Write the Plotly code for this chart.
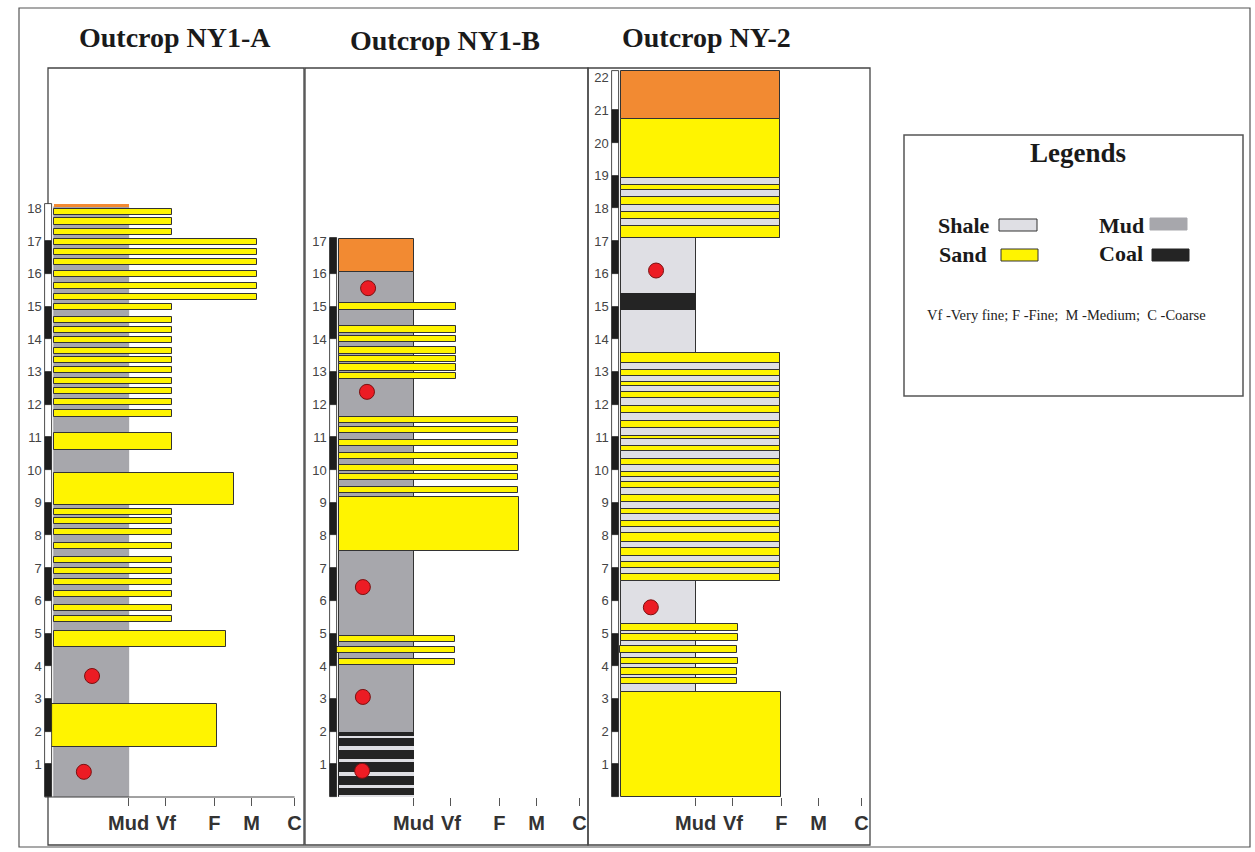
import plotly.graph_objects as go

# ---------------------------------------------------------------------------
# Data: lithological beds of three outcrop logs
# Each bed: (base_m, top_m, grain_size_position[, left_start])
# Grain-size scale positions used on the horizontal axis
# ---------------------------------------------------------------------------
GRAIN_LABELS = ["Mud", "Vf", "F", "M", "C"]
GRAIN_POS = [2.0, 3.0, 4.3, 5.3, 6.45]

# ---- Outcrop NY1-A ----
NY1A_MUD = [(0.0, 18.05, 2.0)]
NY1A_SOIL = [(18.05, 18.12, 2.0)]
NY1A_SAND = [
    (17.80, 17.98, 3.15), (17.50, 17.70, 3.15), (17.19, 17.37, 3.15),
    (16.88, 17.06, 5.45), (16.57, 16.76, 5.45), (16.27, 16.45, 5.45),
    (15.90, 16.08, 5.45), (15.53, 15.72, 5.45), (15.20, 15.38, 5.45),
    (14.89, 15.07, 3.15), (14.50, 14.68, 3.15), (14.19, 14.37, 3.15),
    (13.88, 14.07, 3.15), (13.55, 13.73, 3.15), (13.27, 13.46, 3.15),
    (12.97, 13.15, 3.15), (12.63, 12.81, 3.15), (12.32, 12.51, 3.15),
    (11.99, 12.17, 3.15), (11.62, 11.83, 3.15),
    (10.61, 11.13, 3.17),
    (8.93, 9.91, 4.83),
    (8.62, 8.81, 3.15), (8.35, 8.53, 3.15), (8.01, 8.20, 3.15),
    (7.58, 7.77, 3.15), (7.16, 7.34, 3.15), (6.82, 7.00, 3.15),
    (6.48, 6.67, 3.15), (6.12, 6.30, 3.15), (5.69, 5.87, 3.15),
    (5.35, 5.54, 3.15),
    (4.59, 5.08, 4.61),
    (1.53, 2.84, 4.37, -0.22),
]
NY1A_FOSSIL_X = [1.02, 0.80]
NY1A_FOSSIL_Y = [3.70, 0.77]

# ---- Outcrop NY1-B ----
NY1B_SOIL = [(16.06, 17.06, 2.0)]
NY1B_MUD = [(1.97, 16.06, 2.0)]
NY1B_COAL = [(0.0, 1.97, 2.0)]
NY1B_SHALE = [(1.81, 1.87, 2.0), (1.44, 1.56, 2.0), (1.06, 1.15, 2.0),
              (0.64, 0.77, 2.0), (0.27, 0.37, 2.0), (0.0, 0.06, 2.0)]
NY1B_SAND = [
    (14.90, 15.10, 3.14),
    (14.20, 14.40, 3.14), (13.90, 14.10, 3.14), (13.55, 13.76, 3.14),
    (13.30, 13.49, 3.14), (13.03, 13.24, 3.14), (12.78, 12.97, 3.14),
    (11.44, 11.62, 4.80), (11.13, 11.31, 4.80), (10.73, 10.92, 4.80),
    (10.34, 10.52, 4.80), (9.97, 10.15, 4.80), (9.69, 9.88, 4.80),
    (9.30, 9.48, 4.80),
    (7.52, 9.17, 4.82),
    (4.74, 4.92, 3.10), (4.40, 4.59, 3.10, -0.08), (4.04, 4.22, 3.12),
]
NY1B_FOSSIL_X = [0.78, 0.75, 0.64, 0.64, 0.62]
NY1B_FOSSIL_Y = [15.56, 12.39, 6.42, 3.06, 0.80]

# ---- Outcrop NY-2 ----
NY2_SHALE = [(3.20, 6.62, 2.0), (6.62, 13.58, 4.27),
             (13.58, 17.09, 2.0), (17.09, 18.93, 4.27)]
NY2_COAL = [(14.90, 15.38, 2.0)]
NY2_SOIL = [(20.73, 22.20, 4.27)]
NY2_SAND = [
    (0.0, 3.20, 4.29),
    (5.09, 5.29, 3.14), (4.78, 4.98, 3.13), (4.41, 4.62, 3.10, -0.04),
    (4.06, 4.26, 3.13), (3.73, 3.94, 3.12), (3.45, 3.65, 3.12),
    (13.26, 13.57, 4.27), (12.88, 13.06, 4.27), (12.58, 12.70, 4.27),
    (12.19, 12.38, 4.27), (11.73, 11.97, 4.27), (11.28, 11.50, 4.27),
    (10.95, 11.05, 4.27), (10.58, 10.74, 4.27), (10.15, 10.34, 4.27),
    (9.80, 9.95, 4.27), (9.46, 9.62, 4.27), (9.03, 9.24, 4.27),
    (8.65, 8.81, 4.27), (8.27, 8.45, 4.27), (7.81, 8.06, 4.27),
    (7.38, 7.62, 4.27), (7.01, 7.18, 4.27), (6.61, 6.82, 4.27),
    (18.56, 18.72, 4.27), (18.10, 18.36, 4.27), (17.68, 17.88, 4.27),
    (17.09, 17.46, 4.27),
    (18.93, 20.73, 4.27),
]
NY2_FOSSIL_X = [0.94, 0.80]
NY2_FOSSIL_Y = [16.10, 5.80]

# ---------------------------------------------------------------------------
# Styling and page geometry
# ---------------------------------------------------------------------------
W, H = 1255, 852
PX_PER_M = 32.7
PX_PER_UNIT = 37.3
BASE_PX = 797
FRAME_TOP, FRAME_BOT = 68, 845

SERIF = "Liberation Serif, Times New Roman, serif"
SANS = "Liberation Sans, Arial, sans-serif"

COL = dict(sand="#fff400", mud="#a7a7ac", shale="#dfdfe4",
           coal="#242424", soil="#f28a32", edge="#333333")


def px(xp):
    return xp / W


def py(yp):
    return 1 - yp / H


PANELS = [
    dict(title="Outcrop NY1-A", title_xy=(175, 38), box=(48, 304), dom=(40, 304),
         col0=54, top=18.12, nticks=18,
         layers=[(NY1A_MUD, COL["mud"], "#8c8c90", 0.6),
                 (NY1A_SOIL, COL["soil"], COL["soil"], 0),
                 (NY1A_SAND, COL["sand"], COL["edge"], 1)],
         fossils=(NY1A_FOSSIL_X, NY1A_FOSSIL_Y), baseline=True),
    dict(title="Outcrop NY1-B", title_xy=(445, 40), box=(305, 588), dom=(305, 588),
         col0=339, top=17.08, nticks=17,
         layers=[(NY1B_MUD, COL["mud"], COL["edge"], 1),
                 (NY1B_SOIL, COL["soil"], COL["edge"], 1),
                 (NY1B_COAL, COL["coal"], COL["coal"], 1),
                 (NY1B_SHALE, COL["shale"], COL["shale"], 0),
                 (NY1B_SAND, COL["sand"], COL["edge"], 1)],
         fossils=(NY1B_FOSSIL_X, NY1B_FOSSIL_Y), baseline=False),
    dict(title="Outcrop NY-2", title_xy=(706, 38), box=(588, 870), dom=(588, 870),
         col0=621, top=22.2, nticks=22,
         layers=[(NY2_SHALE, COL["shale"], COL["edge"], 1),
                 (NY2_COAL, COL["coal"], COL["coal"], 1),
                 (NY2_SOIL, COL["soil"], COL["edge"], 1),
                 (NY2_SAND, COL["sand"], COL["edge"], 1)],
         fossils=(NY2_FOSSIL_X, NY2_FOSSIL_Y), baseline=False),
]

fig = go.Figure()
shapes = []
annotations = []
layout_axes = {}

y_range = [(BASE_PX - FRAME_BOT) / PX_PER_M, (BASE_PX - FRAME_TOP) / PX_PER_M]


def bed_bar(beds, color, line_color, line_w, xa, ya):
    lefts = [b[3] if len(b) > 3 else 0.0 for b in beds]
    return go.Bar(
        orientation="h",
        y=[(b[0] + b[1]) / 2 for b in beds],
        width=[b[1] - b[0] for b in beds],
        x=[b[2] - l for b, l in zip(beds, lefts)],
        base=lefts,
        marker=dict(color=color, line=dict(color=line_color, width=line_w)),
        xaxis=xa, yaxis=ya, hoverinfo="skip", showlegend=False,
    )


for i, p in enumerate(PANELS, start=1):
    sfx = "" if i == 1 else str(i)
    xa, ya = "x" + sfx, "y" + sfx
    d0, d1 = p["dom"]
    x_range = [(d0 - p["col0"]) / PX_PER_UNIT, (d1 - p["col0"]) / PX_PER_UNIT]
    bar_left = -0.25

    for beds, color, lc, lw in p["layers"]:
        fig.add_trace(bed_bar(beds, color, lc, lw, xa, ya))

    # metre scale bar: alternating black / white 1 m intervals
    n = int(p["top"])
    segs = [(k, p["top"] if k == n - 1 else k + 1) for k in range(n)]
    black = [(a, b, bar_left + 0.2, bar_left) for (a, b) in segs if a % 2 == 0]
    white = [(a, b, bar_left + 0.2, bar_left) for (a, b) in segs if a % 2 == 1]
    fig.add_trace(bed_bar(black, "#1e1e1e", "#1e1e1e", 0.8, xa, ya))
    fig.add_trace(bed_bar(white, "#ffffff", "#1e1e1e", 0.8, xa, ya))

    fx, fy = p["fossils"]
    fig.add_trace(go.Scatter(
        x=fx, y=fy, mode="markers", xaxis=xa, yaxis=ya,
        marker=dict(size=15, color="#ec1c24", line=dict(color="#7a1010", width=1)),
        hoverinfo="skip", showlegend=False))

    layout_axes["xaxis" + sfx] = dict(
        domain=[px(d0), px(d1)], range=x_range, anchor="free",
        position=py(BASE_PX), tickmode="array", tickvals=GRAIN_POS,
        ticktext=GRAIN_LABELS, ticks="outside", ticklen=8, tickwidth=1,
        tickcolor="#555555", showgrid=False, zeroline=False, showline=False,
        tickfont=dict(family=SANS, size=20, color="#333333", weight="bold"),
        fixedrange=True)
    layout_axes["yaxis" + sfx] = dict(
        domain=[py(FRAME_BOT), py(FRAME_TOP)], range=y_range, anchor="free",
        position=px(p["col0"] + bar_left * PX_PER_UNIT), side="left",
        tickmode="array", tickvals=list(range(1, p["nticks"] + 1)),
        ticks="", showgrid=False, zeroline=False, showline=False,
        ticklabelstandoff=3,
        tickfont=dict(family=SANS, size=13, color="#444444"), fixedrange=True)

    if p["baseline"]:
        shapes.append(dict(type="line", xref=xa, yref=ya, x0=bar_left, x1=GRAIN_POS[-1],
                           y0=0, y1=0, line=dict(color="#444444", width=1)))

    b0, b1 = p["box"]
    shapes.append(dict(type="rect", xref="paper", yref="paper",
                       x0=px(b0), x1=px(b1), y0=py(FRAME_BOT), y1=py(FRAME_TOP),
                       line=dict(color="#444444", width=1.3), layer="below"))
    tx, ty = p["title_xy"]
    annotations.append(dict(text=p["title"], x=px(tx), y=py(ty), xref="paper", yref="paper",
                            showarrow=False, xanchor="center", yanchor="middle",
                            font=dict(family=SERIF, size=28, color="#1a1a1a", weight="bold")))

# Outer page frame
shapes.append(dict(type="rect", xref="paper", yref="paper", x0=px(19), x1=px(1250),
                   y0=py(847), y1=py(8), line=dict(color="#555555", width=1.2), layer="below"))

# Legend box
shapes.append(dict(type="rect", xref="paper", yref="paper", x0=px(904), x1=px(1243),
                   y0=py(396), y1=py(135), line=dict(color="#555555", width=1.5)))
annotations.append(dict(text="Legends", x=px(1078), y=py(153), xref="paper", yref="paper",
                        showarrow=False, xanchor="center", yanchor="middle",
                        font=dict(family=SERIF, size=27, color="#1a1a1a", weight="bold")))

LEGEND_ITEMS = [
    ("Shale", 936, 226, (999, 219, 1037, 231), COL["shale"], "#333333"),
    ("Sand", 937, 255, (1001, 249, 1038, 261), COL["sand"], "#333333"),
    ("Mud", 1097, 226, (1150, 218, 1187, 230), COL["mud"], COL["mud"]),
    ("Coal", 1097, 254, (1152, 249, 1189, 261), COL["coal"], COL["coal"]),
]
for label, tx, ty, (x0, y0, x1, y1), fill, edge in LEGEND_ITEMS:
    annotations.append(dict(text=label, x=px(tx), y=py(ty), xref="paper", yref="paper",
                            showarrow=False, xanchor="left", yanchor="middle",
                            font=dict(family=SERIF, size=22, color="#1a1a1a", weight="bold")))
    shapes.append(dict(type="rect", xref="paper", yref="paper", x0=px(x0), x1=px(x1),
                       y0=py(y1), y1=py(y0), fillcolor=fill, line=dict(color=edge, width=1)))

annotations.append(dict(text="Vf -Very fine; F -Fine;  M -Medium;  C -Coarse",
                        x=px(1066), y=py(315), xref="paper", yref="paper",
                        showarrow=False, xanchor="center", yanchor="middle",
                        font=dict(family=SERIF, size=14.5, color="#222222")))

fig.update_layout(
    width=W, height=H, autosize=False,
    margin=dict(l=0, r=0, t=0, b=0),
    paper_bgcolor="white", plot_bgcolor="rgba(0,0,0,0)",
    barmode="overlay", bargap=0,
    shapes=shapes, annotations=annotations,
    **layout_axes,
)

fig.write_html("out.html", config=dict(displayModeBar=False))
